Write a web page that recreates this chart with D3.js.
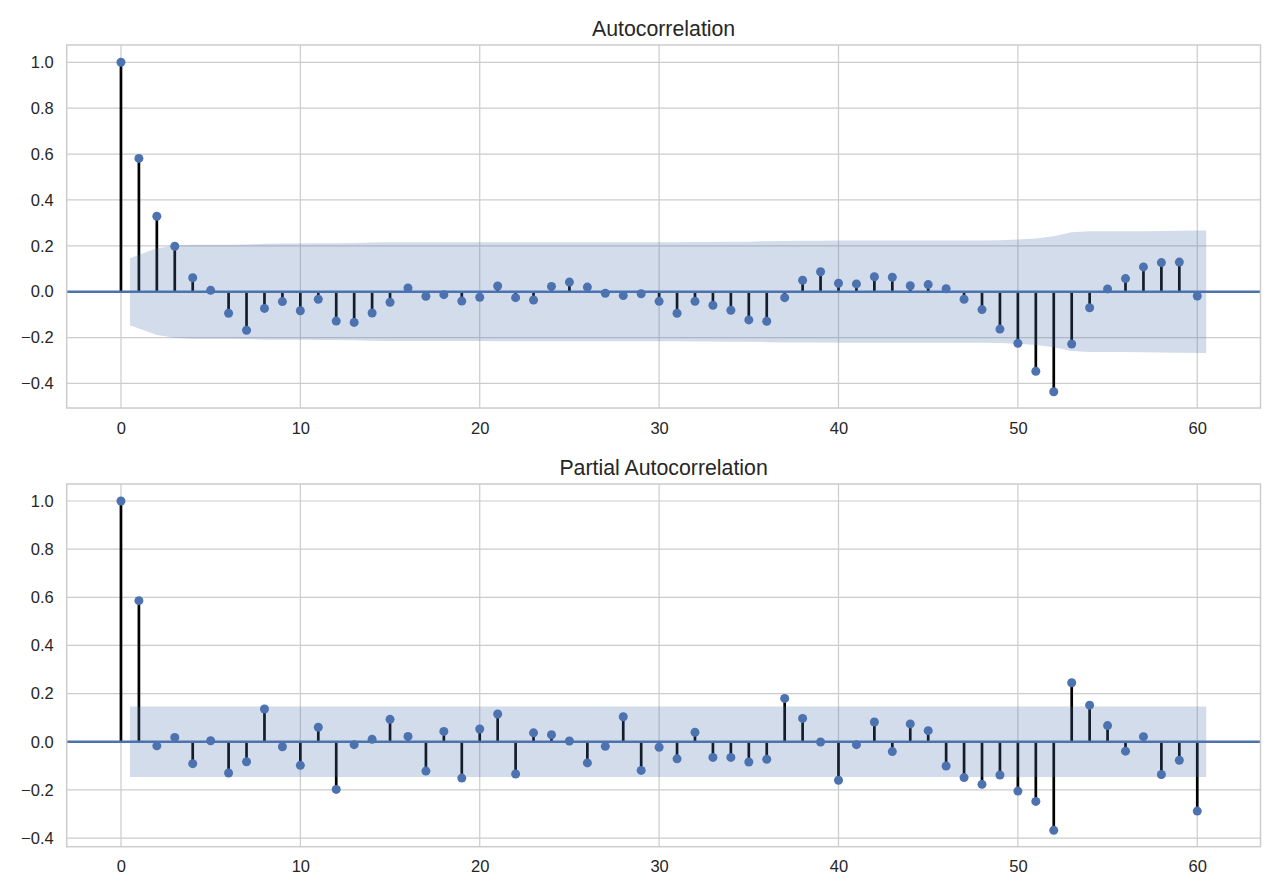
<!DOCTYPE html>
<html>
<head>
<meta charset="utf-8">
<script src="https://cdn.jsdelivr.net/npm/d3@7"></script>
<style>
  html, body { margin: 0; padding: 0; background: #ffffff; }
  svg { display: block; font-family: "Liberation Sans", Arial, sans-serif; }
</style>
</head>
<body>
<svg id="chart" width="1280" height="896"></svg>
<script>
// ---------------- data ----------------
const lags = d3.range(0, 61);
const acfValues = [
  1.000, 0.581, 0.329, 0.198, 0.061, 0.006, -0.094, -0.168, -0.073, -0.043,
  -0.083, -0.033, -0.128, -0.134, -0.093, -0.046, 0.016, -0.020, -0.013, -0.041,
  -0.024, 0.025, -0.026, -0.036, 0.023, 0.042, 0.020, -0.007, -0.017, -0.009,
  -0.042, -0.094, -0.042, -0.059, -0.081, -0.123, -0.129, -0.026, 0.050, 0.087,
  0.037, 0.034, 0.065, 0.063, 0.026, 0.031, 0.013, -0.033, -0.078, -0.163,
  -0.225, -0.347, -0.436, -0.228, -0.070, 0.012, 0.057, 0.108, 0.127, 0.129,
  -0.019
];
// half-width of the ACF confidence band for lags 1..60
const acfBand = [
  0.146, 0.189, 0.201, 0.205, 0.205, 0.205, 0.206, 0.209, 0.210, 0.210,
  0.211, 0.211, 0.212, 0.214, 0.215, 0.215, 0.215, 0.215, 0.215, 0.215,
  0.216, 0.216, 0.216, 0.216, 0.216, 0.216, 0.216, 0.216, 0.216, 0.216,
  0.216, 0.217, 0.217, 0.218, 0.218, 0.220, 0.221, 0.222, 0.222, 0.223,
  0.223, 0.223, 0.223, 0.223, 0.223, 0.223, 0.223, 0.223, 0.224, 0.227,
  0.232, 0.242, 0.259, 0.263, 0.263, 0.263, 0.264, 0.265, 0.266, 0.267
];
const pacfValues = [
  1.000, 0.586, -0.017, 0.018, -0.091, 0.004, -0.130, -0.083, 0.136, -0.021,
  -0.098, 0.060, -0.198, -0.012, 0.010, 0.093, 0.022, -0.122, 0.043, -0.151,
  0.053, 0.115, -0.134, 0.037, 0.029, 0.003, -0.088, -0.019, 0.104, -0.119,
  -0.023, -0.071, 0.039, -0.065, -0.065, -0.084, -0.073, 0.180, 0.097, -0.001,
  -0.160, -0.012, 0.082, -0.041, 0.074, 0.046, -0.101, -0.149, -0.177, -0.138,
  -0.205, -0.248, -0.368, 0.245, 0.152, 0.067, -0.039, 0.021, -0.136, -0.077,
  -0.288
];
// half-width of the PACF confidence band (constant) for lags 1..60
const pacfBand = lags.slice(1).map(() => 0.146);
const xTickValues = [0, 10, 20, 30, 40, 50, 60];
const yTickValues = [-0.4, -0.2, 0.0, 0.2, 0.4, 0.6, 0.8, 1.0];
const titles = ["Autocorrelation", "Partial Autocorrelation"];

// ---------------- layout ----------------
const BLUE = "#4C72B0";
const GRID = "#cccccc";
const TEXT = "#262626";
const svg = d3.select("#chart");

const panels = [
  { title: titles[0], values: acfValues, band: acfBand,
    top: 45, bottom: 408, yDomain: [-0.507, 1.0754], titleY: 36 },
  { title: titles[1], values: pacfValues, band: pacfBand,
    top: 484, bottom: 846.7, yDomain: [-0.436, 1.0706], titleY: 475 }
];
const left = 66.7, right = 1260.5;
const x = d3.scaleLinear().domain([-3.025, 63.525]).range([left, right]);

panels.forEach(p => {
  const y = d3.scaleLinear().domain(p.yDomain).range([p.bottom, p.top]);
  const g = svg.append("g");
  const clipId = "clip" + p.top;
  svg.append("clipPath").attr("id", clipId)
    .append("rect").attr("x", left).attr("y", p.top)
    .attr("width", right - left).attr("height", p.bottom - p.top);

  // grid
  const grid = g.append("g");
  grid.selectAll("line.v").data(xTickValues).enter().append("line")
    .attr("x1", d => x(d)).attr("x2", d => x(d))
    .attr("y1", p.top).attr("y2", p.bottom)
    .attr("stroke", GRID).attr("stroke-width", 1.2);
  grid.selectAll("line.h").data(yTickValues).enter().append("line")
    .attr("x1", left).attr("x2", right)
    .attr("y1", d => y(d)).attr("y2", d => y(d))
    .attr("stroke", GRID).attr("stroke-width", 1.2);

  const plot = g.append("g").attr("clip-path", `url(#${clipId})`);

  // stems
  plot.selectAll("line.stem").data(lags).enter().append("line")
    .attr("x1", d => x(d)).attr("x2", d => x(d))
    .attr("y1", y(0)).attr("y2", d => y(p.values[d]))
    .attr("stroke", "#000").attr("stroke-width", 2.7);

  // confidence band
  const bandLags = lags.slice(1).map((d, i, arr) =>
    i === 0 ? d - 0.5 : (i === arr.length - 1 ? d + 0.5 : d));
  const bandData = bandLags.map((lx, i) => ({ x: lx, w: p.band[i] }));
  const area = d3.area()
    .x(d => x(d.x)).y0(d => y(-d.w)).y1(d => y(d.w));
  plot.append("path").datum(bandData)
    .attr("d", area).attr("fill", BLUE).attr("fill-opacity", 0.25);

  // zero line
  plot.append("line")
    .attr("x1", left).attr("x2", right)
    .attr("y1", y(0)).attr("y2", y(0))
    .attr("stroke", BLUE).attr("stroke-width", 2.4);

  // markers
  plot.selectAll("circle").data(lags).enter().append("circle")
    .attr("cx", d => x(d)).attr("cy", d => y(p.values[d]))
    .attr("r", 4.5).attr("fill", BLUE);

  // frame
  g.append("rect").attr("x", left).attr("y", p.top)
    .attr("width", right - left).attr("height", p.bottom - p.top)
    .attr("fill", "none").attr("stroke", GRID).attr("stroke-width", 1.5);

  // axes labels
  const xAxis = d3.axisBottom(x).tickValues(xTickValues).tickSize(0).tickPadding(14)
    .tickFormat(d3.format("d"));
  const xa = g.append("g").attr("transform", `translate(0,${p.bottom})`).call(xAxis);
  const yAxis = d3.axisLeft(y).tickValues(yTickValues).tickSize(0).tickPadding(13)
    .tickFormat(d3.format(".1f"));
  const ya = g.append("g").attr("transform", `translate(${left},0)`).call(yAxis);
  [xa, ya].forEach(a => {
    a.select(".domain").remove();
    a.selectAll("text").attr("font-size", 16.5).attr("fill", TEXT)
      .attr("font-family", "'Liberation Sans', Arial, sans-serif");
  });

  // title
  g.append("text").attr("x", (left + right) / 2).attr("y", p.titleY)
    .attr("text-anchor", "middle").attr("font-size", 21.3).attr("fill", TEXT)
    .text(p.title);
});
</script>
</body>
</html>
